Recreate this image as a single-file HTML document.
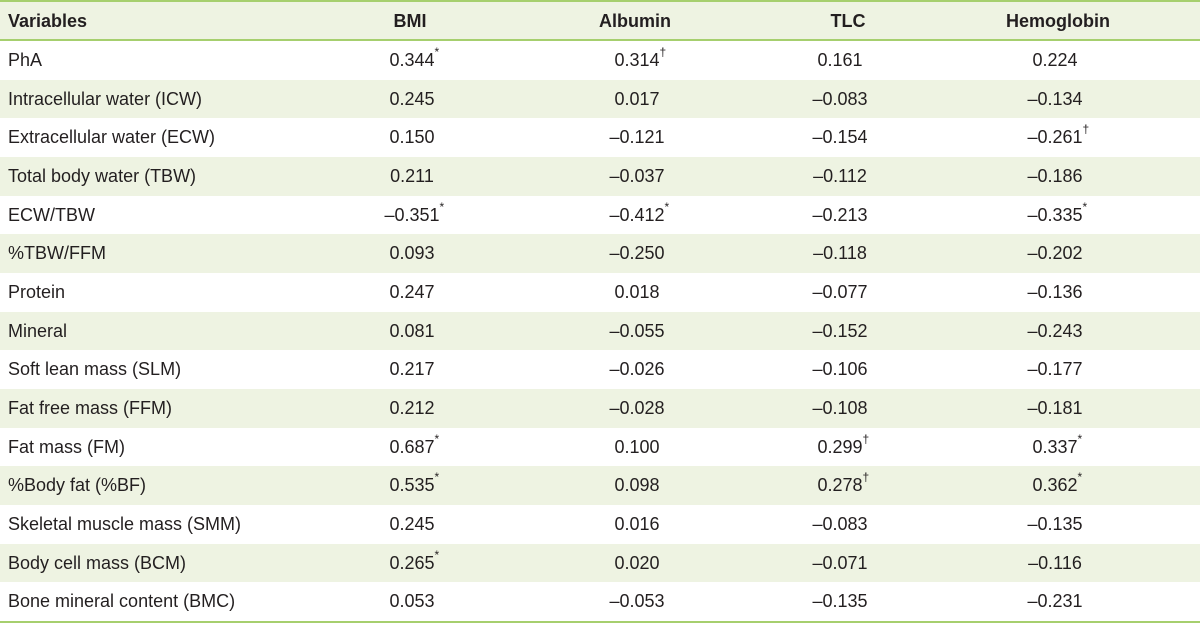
<!DOCTYPE html>
<html><head><meta charset="utf-8"><style>
body{margin:0;width:1200px;height:624px;background:#fff;font-family:"Liberation Sans",sans-serif;color:#231f20;overflow:hidden;position:relative}
.row{position:absolute;left:0;width:1200px;height:38.67px}
.sh{background:#eef3e2}
.c{position:absolute;top:0;line-height:38.67px;font-size:18px;white-space:nowrap}
.v{transform:translateX(-50%)}
.v sup{position:absolute;left:100%;top:-4px;font-size:12px;line-height:1}
.hd{position:absolute;left:0;top:0;width:1200px;height:41px;background:#eef3e2;border-top:2px solid #a6cf6e;border-bottom:2px solid #a6cf6e;box-sizing:border-box}
.hd .c{line-height:38px;font-weight:bold;font-size:18px}
.bot{position:absolute;left:0;top:621px;width:1200px;height:2px;background:#a6cf6e}
</style></head><body>
<div class="hd">
<div class="c" style="left:8px">Variables</div>
<div class="c v" style="left:410px">BMI</div>
<div class="c v" style="left:635px">Albumin</div>
<div class="c v" style="left:848px">TLC</div>
<div class="c v" style="left:1058px">Hemoglobin</div>
</div>
<div id="rows"></div>
<div class="bot"></div>
<script>
var d=[["PhA","0.344*","0.314†","0.161","0.224"],
["Intracellular water (ICW)","0.245","0.017","-0.083","-0.134"],
["Extracellular water (ECW)","0.150","-0.121","-0.154","-0.261†"],
["Total body water (TBW)","0.211","-0.037","-0.112","-0.186"],
["ECW/TBW","-0.351*","-0.412*","-0.213","-0.335*"],
["%TBW/FFM","0.093","-0.250","-0.118","-0.202"],
["Protein","0.247","0.018","-0.077","-0.136"],
["Mineral","0.081","-0.055","-0.152","-0.243"],
["Soft lean mass (SLM)","0.217","-0.026","-0.106","-0.177"],
["Fat free mass (FFM)","0.212","-0.028","-0.108","-0.181"],
["Fat mass (FM)","0.687*","0.100","0.299†","0.337*"],
["%Body fat (%BF)","0.535*","0.098","0.278†","0.362*"],
["Skeletal muscle mass (SMM)","0.245","0.016","-0.083","-0.135"],
["Body cell mass (BCM)","0.265*","0.020","-0.071","-0.116"],
["Bone mineral content (BMC)","0.053","-0.053","-0.135","-0.231"]];
var xs=[412,637,840,1055],h="";
d.forEach(function(r,i){
h+='<div class="row'+(i%2?' sh':'')+'" style="top:'+(41+i*38.67)+'px"><div class="c" style="left:8px">'+r[0]+'</div>';
for(var j=1;j<5;j++){var t=r[j],s="";var m=t.match(/[*†]$/);if(m){s='<sup>'+m[0]+'</sup>';t=t.slice(0,-1);}
t=t.replace('-','\u2013');
h+='<div class="c v" style="left:'+xs[j-1]+'px"><span style="position:relative">'+t+s+'</span></div>';}
h+='</div>';});
document.getElementById('rows').innerHTML=h;
</script>
</body></html>
